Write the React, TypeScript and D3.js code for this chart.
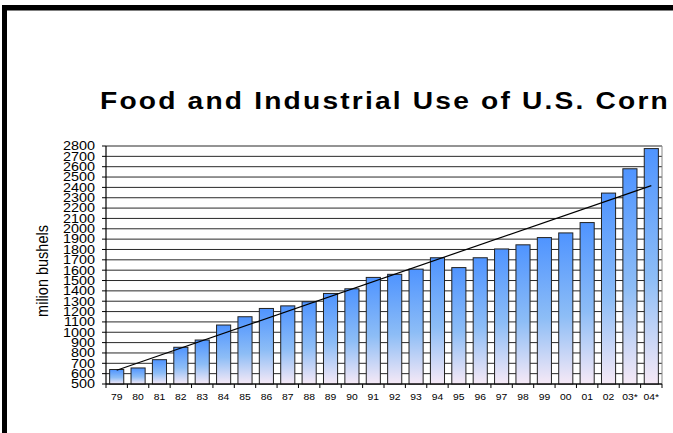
import React from "react";
import * as d3 from "d3";

const categories = ["79","80","81","82","83","84","85","86","87","88","89","90","91","92","93","94","95","96","97","98","99","00","01","02","03*","04*"];
const values = [640,655,735,855,925,1070,1150,1230,1255,1295,1375,1420,1530,1560,1610,1720,1625,1720,1805,1845,1915,1960,2060,2345,2580,2775];
const yTicks = d3.range(500, 2801, 100);
const title = "Food and Industrial Use of U.S. Corn";
const yTitle = "milion bushels";

const W = 673, H = 433;
const plot = { left: 106, right: 662, top: 146, bottom: 384 };
const SX = 1.15;
const FONT = "Arial, 'Liberation Sans', Helvetica, sans-serif";

export default function App() {
  const x = d3.scaleBand<string>().domain(categories).range([plot.left, plot.right]).paddingInner(0.34).paddingOuter(0.17);
  const xs = d3.scaleBand<string>().domain(categories).range([plot.left, plot.right]);
  const y = d3.scaleLinear().domain([500, 2800]).range([plot.bottom, plot.top]);

  // linear trend (least squares)
  const n = values.length;
  const idx = d3.range(n);
  const mx = d3.mean(idx) as number;
  const my = d3.mean(values) as number;
  const slope = d3.sum(idx, (i) => (i - mx) * (values[i] - my)) / d3.sum(idx, (i) => (i - mx) ** 2);
  const icpt = my - slope * mx;
  const cx = (i: number) => (xs(categories[i]) as number) + xs.bandwidth() / 2;
  const trend = d3.line<number>().x((i) => cx(i)).y((i) => y(icpt + slope * i))([0, n - 1]);

  return (
    <svg width={W} height={H} style={{ position: "absolute", left: 0, top: 0, background: "#fff" }}>
      <defs>
        <linearGradient id="barg" x1="0" y1="0" x2="0" y2="1">
          <stop offset="0%" stopColor="#4f94ff" />
          <stop offset="55%" stopColor="#8dbdf6" />
          <stop offset="100%" stopColor="#f6e9f6" />
        </linearGradient>
      </defs>
      <rect x={0} y={0} width={W} height={H} fill="#fff" />
      {/* frame */}
      <rect x={2} y={5} width={W - 2} height={5.5} fill="#000" />
      <rect x={2} y={5} width={5} height={H - 5} fill="#000" />

      {/* title */}
      <text transform={`translate(385,109) scale(${SX},1)`} textAnchor="middle" fontFamily={FONT} fontWeight="bold" fontSize={24.5} letterSpacing={1.9} fill="#000">{title}</text>

      {/* gridlines */}
      {yTicks.map((t) => (
        <line key={"g" + t} x1={plot.left} x2={plot.right} y1={y(t)} y2={y(t)} stroke="#111" strokeWidth={0.9} />
      ))}
      <line x1={plot.right} x2={plot.right} y1={plot.top} y2={plot.bottom} stroke="#888" strokeWidth={1} />

      {/* bars */}
      {values.map((v, i) => (
        <rect key={"b" + i} x={x(categories[i])} y={y(v)} width={x.bandwidth()} height={y(500) - y(v)} fill="url(#barg)" stroke="#222" strokeWidth={1} />
      ))}

      {/* trend */}
      <path d={trend || ""} fill="none" stroke="#000" strokeWidth={1.2} />

      {/* y axis */}
      <line x1={plot.left} x2={plot.left} y1={plot.top} y2={plot.bottom} stroke="#000" strokeWidth={1.2} />
      {yTicks.map((t) => (
        <g key={"yt" + t}>
          <line x1={plot.left - 4} x2={plot.left} y1={y(t)} y2={y(t)} stroke="#000" strokeWidth={1} />
          <text transform={`translate(95,${y(t)}) scale(1.2,1)`} dy="0.36em" textAnchor="end" fontFamily={FONT} fontSize={12} fill="#000">{t}</text>
        </g>
      ))}

      {/* x axis */}
      <line x1={plot.left} x2={plot.right} y1={plot.bottom} y2={plot.bottom} stroke="#000" strokeWidth={1.2} />
      {categories.map((c, i) => (
        <g key={"xt" + c}>
          <line x1={(xs(c) as number)} x2={(xs(c) as number)} y1={plot.bottom} y2={plot.bottom + 4} stroke="#000" strokeWidth={1} />
          <text transform={`translate(${cx(i)},400) scale(${SX},1)`} textAnchor="middle" fontFamily={FONT} fontSize={9} fill="#000">{c}</text>
        </g>
      ))}
      <line x1={plot.right} x2={plot.right} y1={plot.bottom} y2={plot.bottom + 4} stroke="#000" strokeWidth={1} />

      {/* y title */}
      <text transform={`translate(48,271) scale(${SX},1) rotate(-90)`} textAnchor="middle" fontFamily={FONT} fontSize={14.5} fill="#000">{yTitle}</text>
    </svg>
  );
}
